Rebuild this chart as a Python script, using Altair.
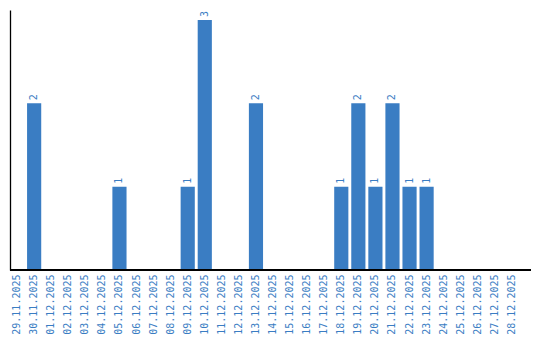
import altair as alt
import pandas as pd

dates = ["29.11.2025", "30.11.2025", "01.12.2025", "02.12.2025", "03.12.2025",
         "04.12.2025", "05.12.2025", "06.12.2025", "07.12.2025", "08.12.2025",
         "09.12.2025", "10.12.2025", "11.12.2025", "12.12.2025", "13.12.2025",
         "14.12.2025", "15.12.2025", "16.12.2025", "17.12.2025", "18.12.2025",
         "19.12.2025", "20.12.2025", "21.12.2025", "22.12.2025", "23.12.2025",
         "24.12.2025", "25.12.2025", "26.12.2025", "27.12.2025", "28.12.2025"]
counts = [0, 2, 0, 0, 0, 0, 1, 0, 0, 0,
          1, 3, 0, 0, 2, 0, 0, 0, 0, 1,
          2, 1, 2, 1, 1, 0, 0, 0, 0, 0]

df = pd.DataFrame({"date": dates, "count": counts})
blue = "#3a7dc3"
mono = "DejaVu Sans Mono"

x = alt.X("date:N", sort=dates,
          scale=alt.Scale(domain=dates, paddingInner=0.17, paddingOuter=0),
          axis=alt.Axis(title=None, labelAngle=270, ticks=False, domain=False,
                        labelFont=mono, labelFontSize=10, labelColor=blue,
                        labelPadding=4, labelOverlap=False))
y = alt.Y("count:Q", scale=alt.Scale(domain=[0, 3.12], nice=False),
          axis=alt.Axis(title=None, labels=False, ticks=False, grid=False,
                        domainColor="black", domainWidth=1.3))

bars = alt.Chart(df).mark_bar(color=blue).encode(x=x, y=y)
labels = alt.Chart(df).transform_filter("datum.count > 0").mark_text(
    angle=270, align="left", baseline="middle", dx=3,
    font=mono, fontSize=10, color=blue
).encode(x=x, y=y, text="count:Q")
axisline = alt.Chart(df).mark_rule(color="black", strokeWidth=1.3).encode(
    x=alt.value(0), x2=alt.value(521), y=alt.value(260))

chart = alt.layer(bars, labels, axisline).properties(
    width=509, height=260,
    autosize=alt.AutoSizeParams(type="none"),
    padding={"left": 10, "top": 10, "right": 21, "bottom": 70},
    background="white"
).configure_view(stroke=None, strokeWidth=0)

chart.save("out.html", embed_options={"renderer": "svg", "actions": False})
